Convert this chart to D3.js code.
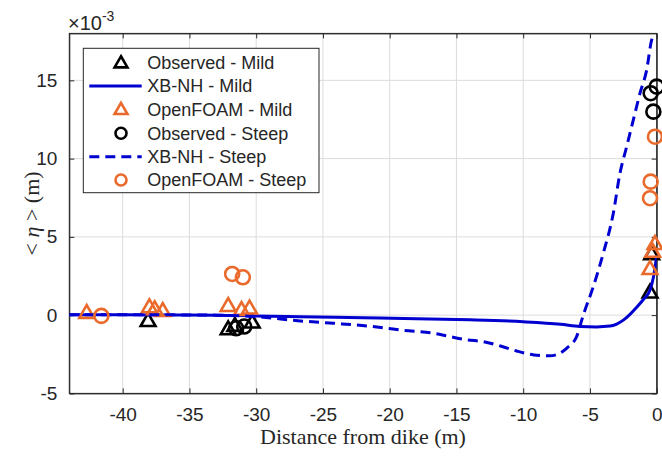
<!DOCTYPE html>
<html>
<head>
<meta charset="utf-8">
<script src="https://cdn.jsdelivr.net/npm/d3@7"></script>
<style>
  html, body { margin: 0; padding: 0; background: #fff; }
  svg { display: block; }
</style>
</head>
<body>
<svg id="chart" width="662" height="456"></svg>
<script>
// ---- data (values in units of 1e-3 m) ----
const xTicks = [-40, -35, -30, -25, -20, -15, -10, -5, 0];
const yTicks = [-5, 0, 5, 10, 15];

const xbMildX = [-44, -40, -36, -33, -30, -26.7, -22, -18, -14, -10, -7.2, -5.75, -4.5, -3.5, -3, -2.5, -2, -1.5, -1, -0.5, -0.25, 0];
const xbMildY = [0.02, 0.02, 0.01, 0, -0.05, -0.1, -0.17, -0.23, -0.3, -0.42, -0.58, -0.72, -0.75, -0.7, -0.57, -0.32, 0.05, 0.5, 1.0, 1.6, 2.4, 3.8];

const xbSteepX = [-44, -38, -33, -30, -26.7, -24.2, -21.7, -20.2, -19.2, -16.7, -15.5, -14.2, -13, -11.7, -10.5, -9.2, -8, -7.25, -6.75, -6, -5.5, -4.75, -4, -3.25, -2.75, -2.25, -1.75, -1.25, -0.75, -0.37, -0.2];
const xbSteepY = [0.02, 0.02, 0, -0.1, -0.37, -0.52, -0.69, -0.84, -0.95, -1.16, -1.37, -1.58, -1.69, -1.97, -2.29, -2.54, -2.6, -2.43, -2.12, -1.37, 0.0, 1.82, 3.96, 6.51, 9.07, 10.77, 12.48, 14.18, 15.67, 17.6, 17.9];

const obsMildX = [-38.1, -32.1, -31.6, -30.3, -0.38, -0.5];
const obsMildY = [-0.42, -0.95, -0.73, -0.52, 3.85, 1.4];

const ofMildX = [-42.7, -38.0, -37.6, -37.0, -32.1, -31.1, -30.5, -0.13, -0.3, -0.5];
const ofMildY = [0.1, 0.46, 0.33, 0.22, 0.54, 0.29, 0.38, 4.5, 4.0, 2.9];

const obsSteepX = [-31.5, -30.9, 0.0, -0.45, -0.25];
const obsSteepY = [-0.84, -0.73, 14.6, 14.18, 13.0];

const ofSteepX = [-41.6, -31.8, -31.0, -0.13, -0.45, -0.5];
const ofSteepY = [-0.05, 2.63, 2.42, 11.4, 8.53, 7.47];

const legendLabels = ["Observed - Mild", "XB-NH - Mild", "OpenFOAM - Mild", "Observed - Steep", "XB-NH - Steep", "OpenFOAM - Steep"];

// ---- layout ----
const svg = d3.select("#chart");
const pL = 69.3, pR = 656.7, pT = 33.4, pB = 393.4;
const x = d3.scaleLinear().domain([-44, 0]).range([pL, pR]);
const y = d3.scaleLinear().domain([-5, 18]).range([pB, pT]);

const BLUE = "#0000d0", ORANGE = "#ea6a2c", BLACK = "#000";
const AXC = "#262626";
const sans = "'Liberation Sans', Arial, Helvetica, sans-serif";
const serif = "'Liberation Serif', 'DejaVu Serif', serif";
const fmt = d => String(d);

svg.append("rect").attr("width", 662).attr("height", 456).attr("fill", "#fff");

// grid
const grid = svg.append("g").attr("stroke", "#dcdcdc").attr("stroke-width", 1);
xTicks.forEach(t => grid.append("line").attr("x1", x(t)).attr("x2", x(t)).attr("y1", pT).attr("y2", pB));
yTicks.forEach(t => grid.append("line").attr("x1", pL).attr("x2", pR).attr("y1", y(t)).attr("y2", y(t)));

// axes via d3 axis (ticks inward)
const xAxis = d3.axisBottom(x).tickValues(xTicks).tickSizeInner(-5).tickSizeOuter(0).tickPadding(14).tickFormat(fmt);
const gx = svg.append("g").attr("transform", `translate(0,${pB})`).call(xAxis);
const yAxis = d3.axisLeft(y).tickValues(yTicks).tickSizeInner(-5).tickSizeOuter(0).tickPadding(12).tickFormat(fmt);
const gy = svg.append("g").attr("transform", `translate(${pL},0)`).call(yAxis);
const gxt = svg.append("g").attr("transform", `translate(0,${pT})`).call(d3.axisTop(x).tickValues(xTicks).tickSizeInner(-5).tickSizeOuter(0).tickFormat(""));
const gyr = svg.append("g").attr("transform", `translate(${pR},0)`).call(d3.axisRight(y).tickValues(yTicks).tickSizeInner(-5).tickSizeOuter(0).tickFormat(""));
[gx, gy, gxt, gyr].forEach(g => {
  g.select(".domain").attr("stroke", AXC).attr("stroke-width", 1);
  g.selectAll(".tick line").attr("stroke", AXC);
  g.selectAll("text").attr("font-family", sans).attr("font-size", 19).attr("fill", "#262626");
});
gx.selectAll(".tick text").attr("dy", "0.71em");

// box
svg.append("rect").attr("x", pL).attr("y", pT).attr("width", pR - pL).attr("height", pB - pT)
  .attr("fill", "none").attr("stroke", AXC).attr("stroke-width", 1);

// exponent label
const ex = svg.append("text").attr("x", 68).attr("y", 30).attr("font-family", sans).attr("font-size", 20).attr("fill", "#262626");
ex.append("tspan").text("\u00d710");
ex.append("tspan").attr("dy", -9).attr("font-size", 14).text("-3");

// axis labels
svg.append("text").attr("x", (pL + pR) / 2).attr("y", 444).attr("text-anchor", "middle")
  .attr("font-family", serif).attr("font-size", 22).attr("fill", "#262626").text("Distance from dike (m)");
const yl = svg.append("text").attr("transform", `translate(39,${(pT + pB) / 2}) rotate(-90)`).attr("text-anchor", "middle")
  .attr("font-family", serif).attr("font-size", 22).attr("fill", "#262626");
yl.append("tspan").text("< ");
yl.append("tspan").attr("font-style", "italic").text("\u03b7");
yl.append("tspan").text(" > (m)");

// clip for lines
svg.append("clipPath").attr("id", "plotclip").append("rect").attr("x", pL).attr("y", pT).attr("width", pR - pL).attr("height", pB - pT);

const line = d3.line().x(d => x(d[0])).y(d => y(d[1])).curve(d3.curveMonotoneX);
const tri = d3.symbol().type(d3.symbolTriangle).size(95);
const triL = d3.symbol().type(d3.symbolTriangle).size(72);

function triangles(xs, ys, color) {
  svg.append("g").selectAll("path").data(d3.zip(xs, ys)).join("path")
    .attr("d", tri).attr("transform", d => `translate(${x(d[0])},${y(d[1])})`)
    .attr("fill", "none").attr("stroke", color).attr("stroke-width", 2.6).attr("stroke-linejoin", "miter");
}
function circles(xs, ys, color) {
  svg.append("g").selectAll("circle").data(d3.zip(xs, ys)).join("circle")
    .attr("cx", d => x(d[0])).attr("cy", d => y(d[1])).attr("r", 7)
    .attr("fill", "none").attr("stroke", color).attr("stroke-width", 2.6);
}

// series in legend order
triangles(obsMildX, obsMildY, BLACK);
svg.append("path").datum(d3.zip(xbMildX, xbMildY)).attr("clip-path", "url(#plotclip)")
  .attr("d", line).attr("fill", "none").attr("stroke", BLUE).attr("stroke-width", 3);
triangles(ofMildX, ofMildY, ORANGE);
circles(obsSteepX, obsSteepY, BLACK);
svg.append("path").datum(d3.zip(xbSteepX, xbSteepY)).attr("clip-path", "url(#plotclip)")
  .attr("d", line).attr("fill", "none").attr("stroke", BLUE).attr("stroke-width", 3).attr("stroke-dasharray", "10,6");
circles(ofSteepX, ofSteepY, ORANGE);

// legend
const lg = svg.append("g");
lg.append("rect").attr("x", 83.3).attr("y", 48.3).attr("width", 235.7).attr("height", 144.4)
  .attr("fill", "#fff").attr("stroke", AXC).attr("stroke-width", 1);
const rowY = [62.7, 86, 109.3, 133.3, 156.7, 180];
const kinds = [
  {t: "tri", c: BLACK}, {t: "line", c: BLUE}, {t: "tri", c: ORANGE},
  {t: "circ", c: BLACK}, {t: "dash", c: BLUE}, {t: "circ", c: ORANGE}
];
kinds.forEach((k, i) => {
  const yy = rowY[i];
  if (k.t === "tri") {
    lg.append("path").attr("d", triL).attr("transform", `translate(121,${yy + 1})`)
      .attr("fill", "none").attr("stroke", k.c).attr("stroke-width", 2.6);
  } else if (k.t === "circ") {
    lg.append("circle").attr("cx", 121).attr("cy", yy).attr("r", 5.5)
      .attr("fill", "none").attr("stroke", k.c).attr("stroke-width", 2.6);
  } else {
    const l = lg.append("line").attr("x1", 89.3).attr("x2", 141.7).attr("y1", yy).attr("y2", yy)
      .attr("stroke", k.c).attr("stroke-width", 3);
    if (k.t === "dash") l.attr("stroke-dasharray", "10,6");
  }
  lg.append("text").attr("x", 147.3).attr("y", yy).attr("dy", "0.35em")
    .attr("font-family", sans).attr("font-size", 18).attr("fill", "#262626").text(legendLabels[i]);
});
</script>
</body>
</html>
